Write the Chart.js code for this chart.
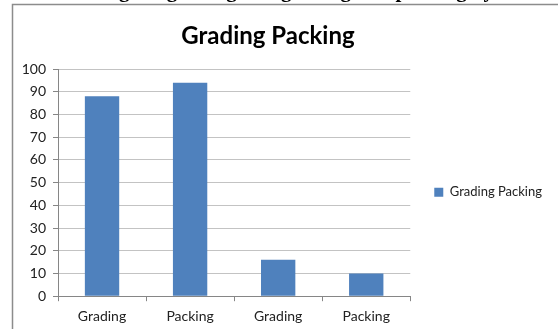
<!DOCTYPE html>
<html>
<head>
<meta charset="utf-8">
<script src="https://cdn.jsdelivr.net/npm/chart.js@4.4.1/dist/chart.umd.min.js"></script>
<style>
  html, body { margin: 0; padding: 0; background: #ffffff; }
  #wrap { width: 558px; height: 329px; position: relative; }
</style>
</head>
<body>
<div id="wrap"><canvas id="c" width="558" height="329"></canvas></div>
<script>
// Chart data
const categories = ['Grading', 'Packing', 'Grading', 'Packing'];
const seriesName = 'Grading Packing';
const seriesValues = [88, 94, 16, 10];
const yTicks = [0, 10, 20, 30, 40, 50, 60, 70, 80, 90, 100];

const chartTitle = 'Grading Packing';
const captionAbove = 'Percentage of grading and grading and packing by the respondents';

// Frame around the chart, the caption line above it and the chart heading
const framePlugin = {
  id: 'frame',
  beforeDraw(chart) {
    const ctx = chart.ctx;
    ctx.save();
    ctx.fillStyle = '#ffffff';
    ctx.fillRect(0, 0, chart.width, chart.height);
    ctx.strokeStyle = '#8c8c8c';
    ctx.lineWidth = 1.5;
    ctx.strokeRect(12.5, 4.5, chart.width + 20, chart.height + 20);
    ctx.fillStyle = '#000000';
    ctx.font = 'bold 21px "Liberation Serif"';
    ctx.textAlign = 'left';
    ctx.textBaseline = 'alphabetic';
    ctx.fillText(captionAbove, 40, -3);
    ctx.font = 'bold 24px Lato';
    ctx.textAlign = 'center';
    ctx.textBaseline = 'middle';
    ctx.fillText(chartTitle, 268, 36);
    ctx.restore();
  }
};

new Chart(document.getElementById('c'), {
  type: 'bar',
  data: {
    labels: categories,
    datasets: [{
      label: seriesName,
      data: seriesValues,
      backgroundColor: '#4f81bd',
      borderColor: '#4f81bd',
      borderWidth: 0,
      barPercentage: 0.78,
      categoryPercentage: 0.5
    }]
  },
  options: {
    responsive: false,
    animation: false,
    devicePixelRatio: 1,
    layout: { padding: { left: -20, right: 6, top: 69, bottom: -3 } },
    plugins: {
      title: { display: false },
      legend: {
        position: 'right',
        fullSize: false,
        title: {
          display: true,
          text: ' ',
          font: { family: 'Lato', size: 16 },
          padding: 0
        },
        labels: {
          boxWidth: 9,
          boxHeight: 9,
          color: '#222222',
          font: { family: 'Lato', size: 13 },
          padding: 24
        }
      },
      tooltip: { enabled: false }
    },
    scales: {
      y: {
        min: 0,
        max: 100,
        afterBuildTicks(axis) { axis.ticks = yTicks.map(v => ({ value: v })); },
        afterFit(axis) { axis.width = 78; },
        ticks: {
          color: '#222222',
          font: { family: 'Lato', size: 14 },
          padding: 7
        },
        grid: { color: '#c3c3c3', lineWidth: 1, tickLength: 5, tickColor: '#868686' },
        border: { color: '#868686', width: 1 }
      },
      x: {
        ticks: {
          color: '#222222',
          font: { family: 'Lato', size: 14 },
          padding: 7
        },
        grid: { offset: true, drawOnChartArea: false, tickLength: 5, color: '#868686' },
        border: { color: '#868686', width: 1 }
      }
    }
  },
  plugins: [framePlugin]
});
</script>
</body>
</html>
